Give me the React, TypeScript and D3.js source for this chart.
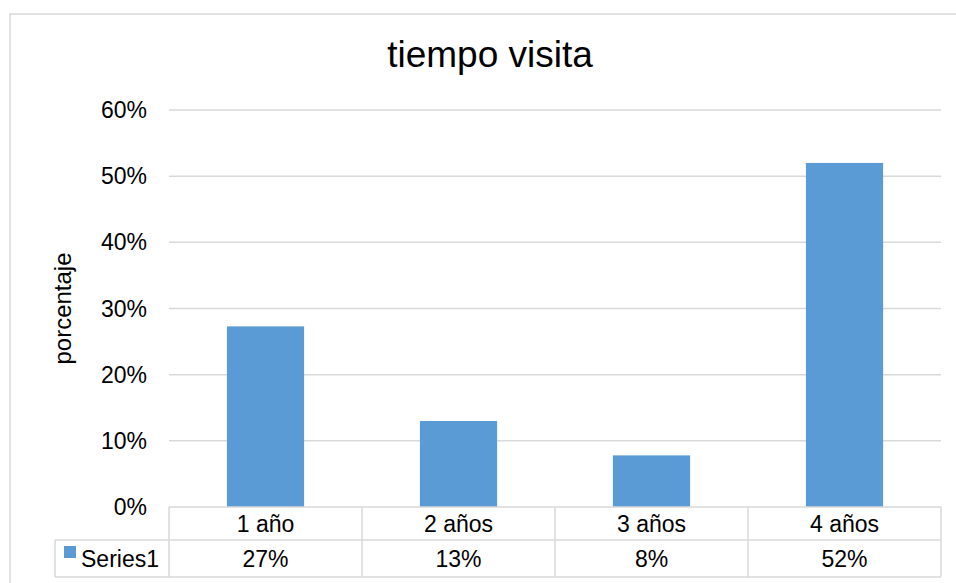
import React from "react";
import * as d3 from "d3";

const categories = ["1 año", "2 años", "3 años", "4 años"];
const values = [0.273, 0.13, 0.078, 0.52];
const valueLabels = ["27%", "13%", "8%", "52%"];
const yTicks = [0, 0.1, 0.2, 0.3, 0.4, 0.5, 0.6];
const seriesName = "Series1";
const title = "tiempo visita";
const yTitle = "porcentaje";

const W = 956;
const H = 583;
const FONT = "'Liberation Sans', Arial, sans-serif";
const BAR = "#5B9BD5";
const GRID = "#D9D9D9";

export default function App() {
  const plotLeft = 169;
  const plotRight = 941;
  const y = d3.scaleLinear().domain([0, 0.6]).range([507, 110]);
  const x = d3.scaleBand<string>().domain(categories).range([plotLeft, plotRight]).paddingInner(0.6).paddingOuter(0.3);
  const xCell = d3.scaleBand<string>().domain(categories).range([plotLeft, plotRight]);
  const row1Top = y(0);
  const row2Top = 540;
  const row2Bottom = 577;
  const tableLeft = 55;
  const fmt = d3.format(".0%");

  return (
    <svg width={W} height={H} style={{ position: "absolute", left: 0, top: 0, background: "#fff" }} fontFamily={FONT}>
      <rect x={10} y={14} width={W + 10} height={H + 10} fill="#fff" stroke={GRID} strokeWidth={1.5} />
      <text x={490} y={67} textAnchor="middle" fontSize={37} fill="#000">{title}</text>
      <text transform={`translate(71,${y(0.3)}) rotate(-90)`} textAnchor="middle" fontSize={24} fill="#000">{yTitle}</text>
      {yTicks.map((t) => (
        <g key={t}>
          {t > 0 && <line x1={plotLeft} x2={plotRight} y1={y(t)} y2={y(t)} stroke={GRID} strokeWidth={1.5} />}
          <text x={147} y={y(t)} dy="0.35em" textAnchor="end" fontSize={23} fill="#000">{fmt(t)}</text>
        </g>
      ))}
      {categories.map((c, i) => (
        <rect key={c} x={x(c)} y={y(values[i])} width={x.bandwidth()} height={y(0) - y(values[i])} fill={BAR} />
      ))}
      {/* data table */}
      <g stroke={GRID} strokeWidth={1.5} fill="none">
        <line x1={plotLeft} x2={plotRight} y1={row1Top} y2={row1Top} />
        <line x1={tableLeft} x2={plotRight} y1={row2Top} y2={row2Top} />
        <line x1={tableLeft} x2={plotRight} y1={row2Bottom} y2={row2Bottom} />
        <line x1={tableLeft} x2={tableLeft} y1={row2Top} y2={row2Bottom} />
        {categories.map((c) => (
          <line key={c} x1={xCell(c)} x2={xCell(c)} y1={row1Top} y2={row2Bottom} />
        ))}
        <line x1={plotRight} x2={plotRight} y1={row1Top} y2={row2Bottom} />
      </g>
      {categories.map((c, i) => (
        <g key={c} fontSize={23} fill="#000" textAnchor="middle">
          <text x={(xCell(c) as number) + xCell.bandwidth() / 2} y={(row1Top + row2Top) / 2} dy="0.35em">{c}</text>
          <text x={(xCell(c) as number) + xCell.bandwidth() / 2} y={(row2Top + row2Bottom) / 2} dy="0.35em">{valueLabels[i]}</text>
        </g>
      ))}
      <rect x={64} y={546} width={12} height={12} fill={BAR} />
      <text x={81} y={(row2Top + row2Bottom) / 2} dy="0.35em" fontSize={23} fill="#000">{seriesName}</text>
    </svg>
  );
}
